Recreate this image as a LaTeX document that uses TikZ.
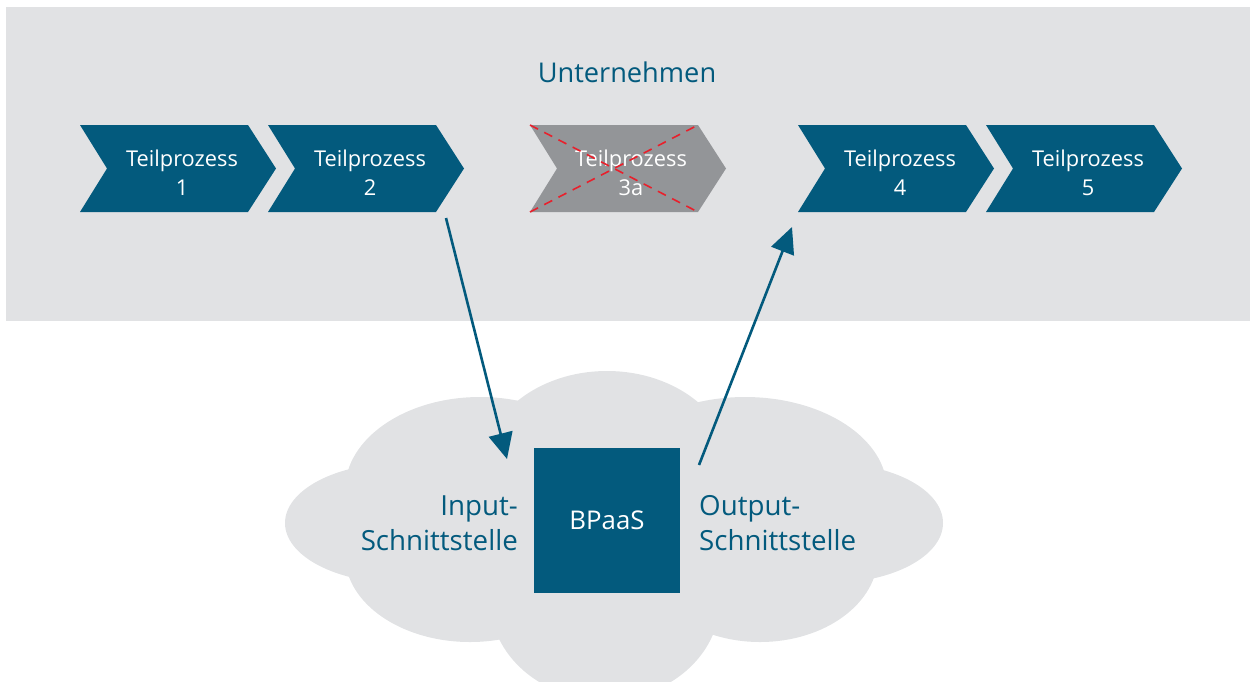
\documentclass[tikz,border=0pt]{standalone}
\usepackage{fontspec}
\setmainfont{Open Sans}
\usetikzlibrary{arrows.meta}
\definecolor{bteal}{HTML}{035A7D}
\definecolor{bgray}{HTML}{E1E2E4}
\definecolor{cgray}{HTML}{939598}
\definecolor{xred}{HTML}{E8202C}
\newcommand\mychev[2]{\fill[#2] (#1,125) -- ++(168,0) -- ++(28,43.5) -- ++(-28,43.5) -- ++(-168,0) -- ++(27,-43.5) -- cycle;}
\begin{document}
\begin{tikzpicture}[x=1pt,y=-1pt,
  ctext/.style={text=white,font=\fontsize{21.8}{29}\selectfont,align=center,anchor=base,inner sep=0pt},
  lbl/.style={text=bteal,font=\fontsize{27.7}{35}\selectfont,inner sep=0pt},
  title/.style={text=bteal,font=\fontsize{27.2}{32}\selectfont,anchor=base,inner sep=0pt},
  cloud/.style={fill=bgray},
  boxstyle/.style={fill=bteal,text=white,font=\fontsize{25.8}{30}\selectfont,minimum width=146pt,minimum height=145pt,inner sep=0pt},
  crossline/.style={draw=xred,line width=1.6pt,dash pattern=on 9pt off 7pt},
  arr/.style={draw=bteal,line width=2.6pt,-{Triangle[length=26pt,width=24pt]}}]
\useasboundingbox (0,0) rectangle (1250,681);
\clip (0,0) rectangle (1250,681);
% company area
\fill[bgray] (6,7) rectangle (1250,321);
\node[title] (unt) at (627,82.5) {Unternehmen};
% chevrons
\mychev{80}{bteal}
\mychev{268}{bteal}
\mychev{530}{cgray}
\mychev{798}{bteal}
\mychev{986}{bteal}
\node[ctext] (t1) at (182,195) {Teilprozess\\1};
\node[ctext] (t2) at (370,195) {Teilprozess\\2};
\node[ctext] (t3) at (631,195) {Teilprozess\\3a};
\node[ctext] (t4) at (900,195) {Teilprozess\\4};
\node[ctext] (t5) at (1088,195) {Teilprozess\\5};
% cross over 3a
\coordinate (xtl) at (530,125);
\coordinate (xbr) at (698,212);
\coordinate (xbl) at (530,212);
\coordinate (xtr) at (698,125);
\draw[crossline] (xtl) -- (xbr);
\draw[crossline] (xbl) -- (xtr);
% cloud
\fill[cloud] (400,523) ellipse [x radius=115pt, y radius=60pt];
\fill[cloud] (830,523) ellipse [x radius=113pt, y radius=60pt];
\fill[cloud] (480,490) ellipse [x radius=135pt, y radius=93pt];
\fill[cloud] (745,490) ellipse [x radius=142pt, y radius=93pt];
\fill[cloud] (470,555) ellipse [x radius=125pt, y radius=87pt];
\fill[cloud] (760,555) ellipse [x radius=118pt, y radius=87pt];
\fill[cloud] (607,470) ellipse [x radius=125pt, y radius=99pt];
\fill[cloud] (605,600) ellipse [x radius=115pt, y radius=100pt];
\fill[cloud] (400,450) rectangle (830,610);
% BPaaS
\node[boxstyle] (bpaas) at (607,520.5) {BPaaS};
\node[lbl,anchor=base east,align=right] (inlbl) at (518,550) {Input-\\Schnittstelle};
\node[lbl,anchor=base west,align=left] (outlbl) at (699,550) {Output-\\Schnittstelle};
% arrows
\coordinate (a1s) at (446,218);
\coordinate (a1e) at (507,459);
\coordinate (a2s) at (699,465);
\coordinate (a2e) at (792,227);
\draw[arr] (a1s) -- (a1e);
\draw[arr] (a2s) -- (a2e);
\end{tikzpicture}
\end{document}
